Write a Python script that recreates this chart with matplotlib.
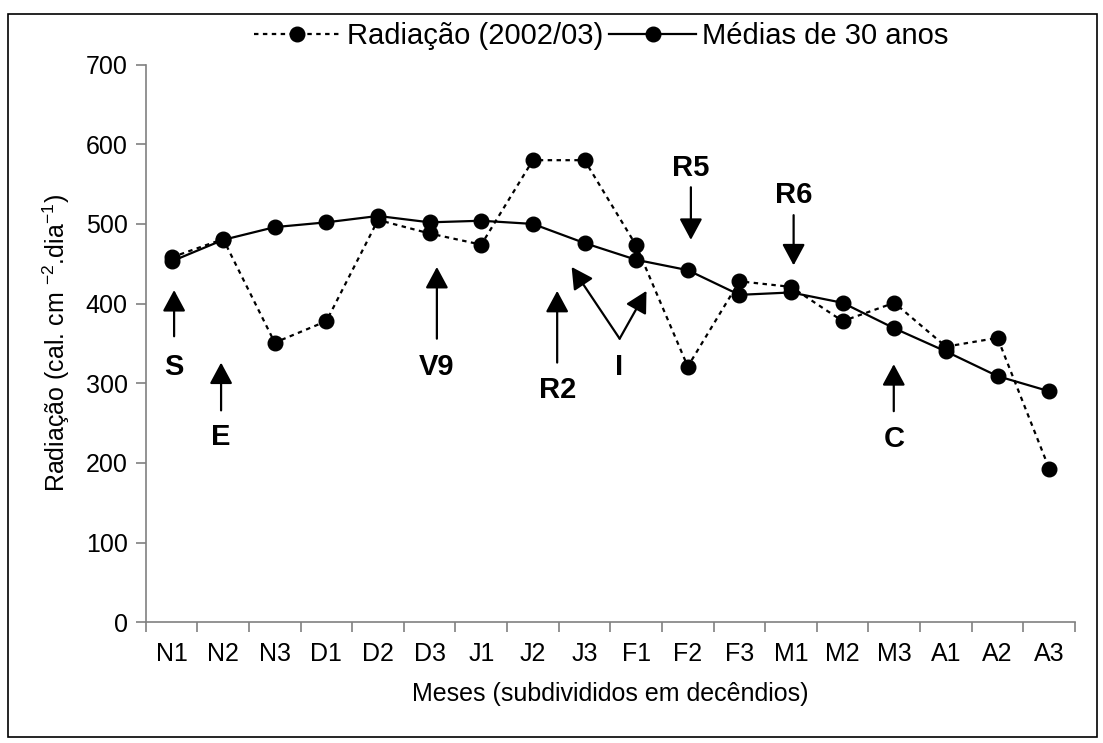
import matplotlib.pyplot as plt
from matplotlib.patches import Rectangle
from matplotlib.ticker import FixedLocator

plt.rcParams['font.family'] = ['Liberation Sans', 'DejaVu Sans']
plt.rcParams['mathtext.default'] = 'regular'

# decêndios de novembro a abril
periodos = ['N1', 'N2', 'N3', 'D1', 'D2', 'D3', 'J1', 'J2', 'J3',
            'F1', 'F2', 'F3', 'M1', 'M2', 'M3', 'A1', 'A2', 'A3']
radiacao_2002 = [458, 481, 351, 378, 505, 488, 474, 580, 580,
                 473, 321, 428, 421, 378, 401, 346, 357, 193]
media_30anos = [453, 480, 496, 502, 510, 502, 504, 500, 476,
                455, 442, 411, 414, 401, 369, 340, 309, 290]

# estádios fenológicos: (texto, x, y da ponta, y da base, y do texto)
estadios_cima = [('S', 0.05, 417, 359, 321),
                 ('E', 0.96, 326, 266, 232),
                 ('V9', 5.14, 446, 356, 320),
                 ('R2', 7.47, 416, 326, 292),
                 ('C', 13.99, 324, 265, 230)]
estadios_baixo = [('R5', 10.06, 480, 546, 570),
                  ('R6', 12.05, 448, 511, 536)]

x = list(range(len(periodos)))

fig = plt.figure(figsize=(11.03, 7.43), dpi=100)
ax = fig.add_axes([0.1321, 0.1624, 0.8425, 0.7507])

l1, = ax.plot(x, radiacao_2002, color='black', linestyle=(0, (2.0, 2.0)),
              linewidth=1.6, marker='o', markersize=10.5)
l2, = ax.plot(x, media_30anos, color='black', linestyle='-',
              linewidth=1.6, marker='o', markersize=10.5)

ax.set_xlim(-0.5, 17.5)
ax.set_ylim(0, 700)
ax.set_yticks(range(0, 701, 100))
ax.set_xticks(x)
ax.set_xticklabels(periodos)
ax.xaxis.set_minor_locator(FixedLocator([i - 0.5 for i in range(19)]))
ax.tick_params(axis='x', which='major', length=0, pad=14, labelsize=18)
ax.tick_params(axis='x', which='minor', length=7, color='#808080', width=1.2)
ax.tick_params(axis='y', length=7, color='#808080', width=1.2, labelsize=18, pad=6)

for s in ['top', 'right']:
    ax.spines[s].set_visible(False)
for s in ['left', 'bottom']:
    ax.spines[s].set_color('#808080')
    ax.spines[s].set_linewidth(1.2)

ax.set_xlabel('Meses (subdivididos em decêndios)', fontsize=18, labelpad=12)
ax.set_ylabel('Radiação (cal. cm $^{-2}$.dia$^{-1}$)', fontsize=18, labelpad=10)

seta = dict(arrowstyle='-|>,head_length=1.3,head_width=0.7',
            color='black', lw=1.6, shrinkA=0, shrinkB=0)
for txt, xp, ponta, base, ytxt in estadios_cima + estadios_baixo:
    ax.annotate('', xy=(xp, ponta), xytext=(xp, base), arrowprops=seta)
    ax.text(xp, ytxt, txt, ha='center', va='center', fontsize=21,
            fontweight='bold')

# "I" com duas setas
ax.text(8.66, 320, 'I', ha='center', va='center', fontsize=21, fontweight='bold')
ax.annotate('', xy=(7.75, 446), xytext=(8.68, 356), arrowprops=seta)
ax.annotate('', xy=(9.2, 416), xytext=(8.68, 356), arrowprops=seta)

fig.legend([l1, l2], ['Radiação (2002/03)', 'Médias de 30 anos'],
           loc='center', bbox_to_anchor=(0.545, 0.951), ncol=2,
           frameon=False, fontsize=21, handlelength=3.0,
           handletextpad=0.2, columnspacing=0.2, borderpad=0)

fig.patches.append(Rectangle((8 / 1103, 6 / 743), 1089 / 1103, 723 / 743,
                             transform=fig.transFigure, fill=False,
                             edgecolor='black', linewidth=1.2))

fig.savefig('out.png', dpi=100)
